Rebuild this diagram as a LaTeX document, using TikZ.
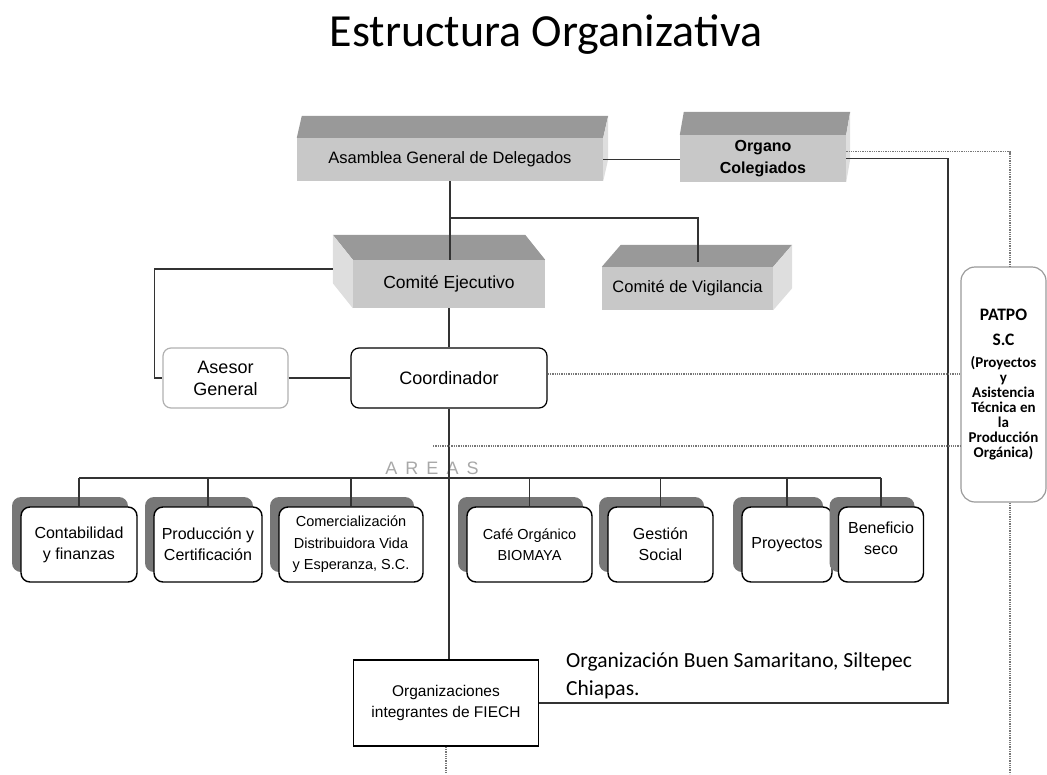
\documentclass[tikz,border=0pt]{standalone}
\usepackage{fontspec}
\setmainfont{Liberation Sans}
\newfontfamily\calibri{Carlito}
\newfontfamily\spaced[LetterSpace=45]{Liberation Sans}
\usetikzlibrary{positioning, shadows, calc}
\usepackage{xcolor}
\definecolor{frontgray}{HTML}{C8C8C8}
\definecolor{topgray}{HTML}{999999}
\definecolor{sidegray}{HTML}{DEDEDE}
\definecolor{linegray}{HTML}{333333}
\definecolor{dotgray}{HTML}{777777}
\definecolor{shadowgray}{HTML}{777777}
\definecolor{asesorgray}{HTML}{B0B0B0}
\definecolor{patpogray}{HTML}{9A9A9A}
\definecolor{areasgray}{HTML}{A8A8A8}

\begin{document}
\begin{tikzpicture}[x=1pt, y=-1pt,
    block/.style={fill=frontgray, inner sep=0pt, align=center, font=\fontsize{16.5}{19}\selectfont},
    areabox/.style={draw, line width=1.4pt, fill=white, rounded corners=9pt, minimum height=75pt,
        inner sep=1pt, align=center, font=\fontsize{16}{21}\selectfont,
        general shadow={fill=shadowgray, shadow xshift=-9pt, shadow yshift=10pt}},
    roundbox/.style={draw, rounded corners=8pt, minimum height=60pt, line width=1.2pt,
        align=center, font=\fontsize{18}{22}\selectfont},
    conn/.style={draw=linegray, line width=1.3pt},
    dotline/.style={draw=dotgray, line width=1.8pt, dash pattern=on 1.3pt off 1pt}]

        % Canvas
        \useasboundingbox (0,0) rectangle (1047,774);

        % Title
        \node[font=\calibri\fontsize{46}{50}\selectfont] (title) at (546,35) {Estructura Organizativa};

        % Upper blocks
        \node[block, minimum width=306pt, minimum height=43pt] (asam) at (450,159.5) {Asamblea General de Delegados};
        \node[block, minimum width=166pt, minimum height=47pt, font=\bfseries\fontsize{16}{22}\selectfont] (organo) at (763,158.5) {Organo\\Colegiados};
        \node[block, minimum width=192pt, minimum height=48pt, font=\fontsize{17.5}{20}\selectfont] (ejec) at (449,284) {Comité Ejecutivo};
        \node[block, minimum width=171pt, minimum height=43pt] (vigil) at (687.5,288.5) {Comité de Vigilancia};

        % Depth faces
        \foreach \n/\dx/\dy in {asam/5/-22, organo/4/-23, vigil/19/-22} {
            \fill[topgray] (\n.north west) -- ([shift={(\dx,\dy)}]\n.north west) -- ([shift={(\dx,\dy)}]\n.north east) -- (\n.north east) -- cycle;
            \fill[sidegray] (\n.north east) -- ([shift={(\dx,\dy)}]\n.north east) -- ([shift={(\dx,\dy)}]\n.south east) -- (\n.south east) -- cycle;
        }
        \fill[topgray] (ejec.north west) -- ([shift={(-20,-25)}]ejec.north west) -- ([shift={(-20,-25)}]ejec.north east) -- (ejec.north east) -- cycle;
        \fill[sidegray] (ejec.north west) -- ([shift={(-20,-25)}]ejec.north west) -- ([shift={(-20,-25)}]ejec.south west) -- (ejec.south west) -- cycle;

        % Middle boxes
        \node[roundbox, draw=asesorgray, minimum width=125pt] (asesor) at (225.5,378) {Asesor\\General};
        \node[roundbox, minimum width=196pt] (coord) at (449,378) {Coordinador};

        % PATPO
        \node[draw=patpogray, line width=1.2pt, rounded corners=14pt, minimum width=85pt, minimum height=235pt,
            align=center, inner sep=0pt, font=\calibri\bfseries\fontsize{15}{15}\selectfont] (patpo) at (1003.5,384.5)
            {{\fontsize{17.5}{15}\selectfont PATPO}\\[10pt]{\fontsize{17.5}{15}\selectfont S.C}\\[7pt]
             (Proyectos\\y\\Asistencia\\Técnica en\\la\\Producción\\Orgánica)};

        % Areas
        \node[font=\spaced\fontsize{18}{20}\selectfont, text=areasgray] (areas) at (432,468) {AREAS};
        \node[areabox, minimum width=116pt] (cont) at (79,544.5) {Contabilidad\\y finanzas};
        \node[areabox, minimum width=108pt] (prod) at (208,544.5) {Producción y\\Certificación};
        \node[areabox, minimum width=144pt, font=\fontsize{14.5}{21.5}\selectfont] (comer) at (351,544.5) {Comercialización\\Distribuidora Vida\\y Esperanza, S.C.};
        \node[areabox, minimum width=125pt, font=\fontsize{14.5}{21}\selectfont] (cafe) at (529.5,544.5) {Café Orgánico\\BIOMAYA};
        \node[areabox, minimum width=105pt] (gest) at (660.5,544.5) {Gestión\\Social};
        \node[areabox, minimum width=90pt] (proy) at (787,544.5) {Proyectos};
        \node[areabox, minimum width=85pt] (benef) at (881,544.5) {Beneficio\\seco\\[-9pt]};

        % Member organisations
        \node[draw, line width=1.2pt, minimum width=185pt, minimum height=86pt, align=center,
            font=\fontsize{15.5}{21}\selectfont] (fiech) at (446,703) {Organizaciones\\integrantes de FIECH};
        \node[anchor=north west, align=left, inner sep=0pt, font=\calibri\fontsize{21.5}{28}\selectfont] (note) at (566,652)
            {Organización Buen Samaritano, Siltepec\\Chiapas.};

        % Connectors
        \coordinate (top) at (450,218);
        \draw[conn] (asam.east) -- (asam.east -| organo.west);
        \draw[conn] (asam.south) -- (asam.south |- ejec.north);
        \draw[conn] (top) -| ([xshift=10.5pt, yshift=5pt]vigil.north);
        \draw[conn] ([shift={(-20,-15)}]ejec.west) -| ([xshift=-8pt]asesor.west) -- (asesor.west);
        \draw[conn] (asesor.east) -- (coord.west);
        \draw[conn] (ejec.south) -- (coord.north);
        \draw[conn] (coord.south) -- (coord.south |- fiech.north);

        % Area bar
        \coordinate (bar) at (0,478);
        \draw[conn] (cont.north |- bar) -- (benef.north |- bar);
        \foreach \b in {cont,prod,comer,cafe,gest,proy,benef}
            \draw[conn] (\b.north |- bar) -- (\b.north);

        % Organo to member organisations
        \coordinate (rail) at (948,0);
        \draw[conn] (organo.east) -| (rail |- fiech.east) -- (fiech.east);

        % Dotted links to PATPO
        \coordinate (drail) at (1010,774);
        \coordinate (dstart) at (433,446);
        \draw[dotline] ([yshift=7pt]organo.east) -| (drail |- patpo.north);
        \draw[dotline] (drail |- patpo.south) -- (drail);
        \draw[dotline] ([yshift=4pt]coord.east) -- ([yshift=4pt]coord.east -| patpo.west);
        \draw[dotline] (dstart) -- (dstart -| patpo.west);
        \draw[dotline] (fiech.south) -- (fiech.south |- drail);
\end{tikzpicture}
\end{document}
